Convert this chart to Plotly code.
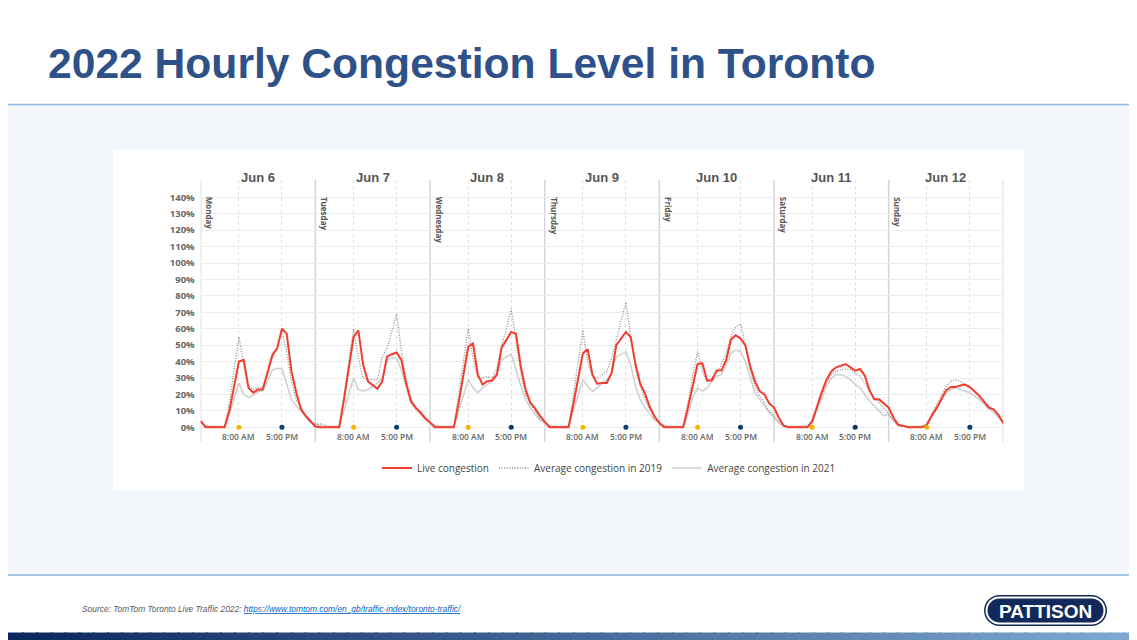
import plotly.graph_objects as go

# the page has an 8px body margin, so the figure is drawn 8px in from the top left
OFF = 8
W, H = 1137 - OFF, 640 - OFF

days = ["Jun 6", "Jun 7", "Jun 8", "Jun 9", "Jun 10", "Jun 11", "Jun 12"]
weekdays = ["Monday", "Tuesday", "Wednesday", "Thursday", "Friday", "Saturday", "Sunday"]
peak_hours = [8, 17]
peak_labels = ["8:00 AM", "5:00 PM"]
y_ticks = list(range(0, 141, 10))

# hourly values, one row per day (hour 0..23), plus the closing value at midnight
live_congestion = [
    [4, 0, 0, 0, 0, 0, 10, 24, 40, 41, 24, 21, 23, 23, 33, 44, 48, 60, 57, 34, 21, 11, 7, 3.5],
    [0.5, 0, 0, 0, 0, 0, 17, 36, 55, 59, 38, 28, 26, 23.5, 28, 43, 44.5, 45.5, 41, 27, 16, 12, 9, 5.5],
    [3, 0, 0, 0, 0, 0, 15, 32, 49, 51, 32, 26, 28, 28.5, 32, 48.5, 53, 58, 57, 37, 23, 15, 11.5, 7],
    [3.5, 0, 0, 0, 0, 0, 14, 30, 45, 47.5, 32, 26.5, 27, 27, 33, 50, 54, 58, 55, 38.5, 26.5, 20.5, 12.5, 6.5],
    [2.5, 0, 0, 0, 0, 0, 12, 26, 38.5, 39, 28.5, 28.5, 34.5, 34.5, 41, 53.5, 56, 54, 50, 37.5, 28, 22, 20, 14.5],
    [12, 6, 1, 0, 0, 0, 0, 0, 3.5, 12.5, 21.5, 29, 34, 36.5, 37.5, 38.5, 36.5, 34.5, 35.5, 31.5, 22.5, 17, 17, 14.5],
    [12, 6, 1.5, 1, 0, 0, 0, 0, 1.5, 7, 11.5, 17.5, 22.5, 24.5, 24.5, 25.5, 26, 24.5, 22, 19, 15.5, 12, 11, 7.5],
]
live_end = 2.5

avg_2019 = [
    [3, 1, 0.5, 0.5, 0.5, 0.5, 15, 35, 55, 38, 25, 23, 24, 25, 32, 42, 48, 59, 46, 28, 17, 12, 7, 3],
    [2, 2, 1.5, 0.5, 0.5, 0.5, 20, 40, 60, 42, 30, 29, 29, 29, 43, 48, 58, 69, 47, 29, 17, 12, 9, 5],
    [3, 1, 0.5, 0.5, 0.5, 0.5, 20, 40, 60, 42, 30, 30, 31, 30, 36, 50, 60, 72, 52, 33, 20, 14, 10, 5],
    [3, 1, 0.5, 0.5, 0.5, 0.5, 20, 40, 59, 40, 31, 30, 32, 34, 42, 54, 65, 76, 56, 36, 25, 17, 11, 6],
    [3, 1, 0.5, 0.5, 0.5, 0.5, 15, 32, 46, 34, 28, 30, 34, 38, 45, 56, 61, 63, 50, 35, 25, 19, 15, 10],
    [7, 3, 1, 0.5, 0.5, 0.5, 0.5, 1, 5, 12, 20, 27, 32, 34, 35, 35.5, 35, 33, 31, 27, 22, 18, 15, 12],
    [8, 4, 1, 0.5, 0.5, 0.5, 0.5, 0.5, 2, 8, 13, 19, 25, 28, 29, 28, 26, 24, 22, 20, 16, 13, 10, 7],
]
avg_2019_end = 3

avg_2021 = [
    [3, 1, 0.5, 0.5, 0.5, 0.5, 8, 18, 27, 20, 18, 19.5, 21.5, 22.5, 28, 35, 36, 35.5, 26, 17, 13, 10, 6, 3],
    [2, 1, 0.5, 0.5, 0.5, 0.5, 10, 20, 30, 23, 22, 23, 25, 27, 30, 41, 42.5, 42, 35, 25, 15, 11, 8, 5],
    [3, 1, 0.5, 0.5, 0.5, 0.5, 10, 20, 29, 24, 21, 24, 26, 28, 33, 41, 43, 44.5, 35, 25, 17, 12, 8, 4],
    [3, 1, 0.5, 0.5, 0.5, 0.5, 10, 20, 29, 25, 22, 24, 27, 29, 33, 43, 44.5, 46, 38, 25, 17, 12, 8, 4],
    [3, 1, 0.5, 0.5, 0.5, 0.5, 8, 18, 24, 22, 24, 28, 31, 32, 38, 45, 47, 46, 40, 30, 21, 17, 13, 9],
    [6, 3, 1, 0.5, 0.5, 0.5, 0.5, 0.5, 3, 10, 18, 25, 30, 32, 32, 31, 29, 26, 24, 20, 16, 13, 10, 7],
    [8, 4, 1, 0.5, 0.5, 0.5, 0.5, 0.5, 1.5, 6, 11, 16, 21, 23, 24, 23, 22, 21, 19, 17, 14, 11, 9, 6],
]
avg_2021_end = 3


def flatten(rows, end):
    return [v for row in rows for v in row] + [end]


def px(x):
    return (x - OFF) / W


def py(y):
    return 1 - (y - OFF) / H


hours = list(range(len(days) * 24 + 1))
n_hours = len(days) * 24

# pixel geometry of the plot panel (page coordinates)
panel_left, panel_right = 200.7, 1003.3
panel_top, panel_bottom = 180, 442
zero_px, top_px = 427.3, 197.3
per_pct = (zero_px - top_px) / 140
y_min = -(panel_bottom - zero_px) / per_pct
y_max = (zero_px - panel_top) / per_pct

fig = go.Figure()

fig.add_trace(go.Scatter(
    x=hours, y=flatten(avg_2021, avg_2021_end), mode="lines",
    name="Average congestion in 2021", legendrank=3,
    line=dict(color="#cfcfcf", width=1.5),
))
fig.add_trace(go.Scatter(
    x=hours, y=flatten(avg_2019, avg_2019_end), mode="lines",
    name="Average congestion in 2019", legendrank=2,
    line=dict(color="#8e8e8e", width=1.3, dash="1px,1.6px"),
))
fig.add_trace(go.Scatter(
    x=hours, y=flatten(live_congestion, live_end), mode="lines",
    name="Live congestion", legendrank=1,
    line=dict(color="#f23d2e", width=2),
))

morning = [d * 24 + peak_hours[0] for d in range(len(days))]
evening = [d * 24 + peak_hours[1] for d in range(len(days))]
fig.add_trace(go.Scatter(
    x=morning, y=[0] * len(morning), mode="markers", showlegend=False,
    marker=dict(color="#f7b500", size=5), cliponaxis=False,
))
fig.add_trace(go.Scatter(
    x=evening, y=[0] * len(evening), mode="markers", showlegend=False,
    marker=dict(color="#0d3b66", size=5), cliponaxis=False,
))

shapes = []
annotations = []

# page background blocks
shapes.append(dict(type="rect", xref="paper", yref="paper", x0=0, x1=1,
                   y0=py(575), y1=py(105), fillcolor="#f3f6fa", line_width=0, layer="below"))
shapes.append(dict(type="rect", xref="paper", yref="paper", x0=px(113), x1=px(1024),
                   y0=py(490), y1=py(150), fillcolor="#ffffff", line_width=0, layer="below"))
for yl in (104.5, 575):
    shapes.append(dict(type="line", xref="paper", yref="paper", x0=0, x1=1,
                       y0=py(yl), y1=py(yl), line=dict(color="#88b6e0", width=1.5), layer="below"))

# day separators
for d in range(len(days) + 1):
    shapes.append(dict(type="line", xref="x", yref="y domain", x0=d * 24, x1=d * 24,
                       y0=0, y1=1, line=dict(color="#d4d4d4", width=1.5), layer="below"))

# bottom gradient strip
c0, c1 = (11, 40, 92), (126, 168, 210)
steps = 80
for i in range(steps):
    t = i / (steps - 1)
    col = "rgb({},{},{})".format(*[round(a + (b - a) * t) for a, b in zip(c0, c1)])
    shapes.append(dict(type="rect", xref="paper", yref="paper",
                       x0=i / steps, x1=(i + 1) / steps + 0.002,
                       y0=0, y1=py(632.5), fillcolor=col, line_width=0, layer="below"))

for d, (day, wd) in enumerate(zip(days, weekdays)):
    annotations.append(dict(x=d * 24 + 12, y=py(177), xref="x", yref="paper", text=day,
                            showarrow=False, yanchor="middle",
                            font=dict(family="Liberation Sans", size=13, color="#555555", weight="bold")))
    annotations.append(dict(x=d * 24, y=141.5, xref="x", yref="y", text=wd, textangle=90,
                            showarrow=False, xanchor="left", yanchor="top", xshift=1.5,
                            font=dict(family="Open Sans", size=8, color="#555555", weight="bold")))
    for h, lab in zip(peak_hours, peak_labels):
        annotations.append(dict(x=d * 24 + h, y=-5.9, xref="x", yref="y", text=lab,
                                showarrow=False, bgcolor="#ffffff", borderpad=0,
                                font=dict(family="Open Sans", size=8.5, color="#666666", weight=600)))

# title and footer
annotations.append(dict(x=px(46), y=py(62.5), xref="paper", yref="paper", xanchor="left", yanchor="middle",
                        text="<b>2022 Hourly Congestion Level in Toronto</b>", showarrow=False,
                        font=dict(family="Liberation Sans", size=42.6, color="#2f5189")))
annotations.append(dict(
    x=px(80), y=py(609), xref="paper", yref="paper", xanchor="left", yanchor="middle", showarrow=False,
    text="<i>Source: TomTom Toronto Live Traffic 2022: "
         "<a href='https://www.tomtom.com/en_gb/traffic-index/toronto-traffic/'>"
         "<span style='color:#0563c1'><u>https://www.tomtom.com/en_gb/traffic-index/toronto-traffic/</u></span></a></i>",
    font=dict(family="Liberation Sans", size=8.4, color="#595959")))


# PATTISON logo pill
def pill(x0, y0, x1, y1):
    r = (y1 - y0) / 2
    k = 0.5523 * r
    pts = [
        ("M", [(x0 + r, y0)]),
        ("L", [(x1 - r, y0)]),
        ("C", [(x1 - r + k, y0), (x1, y0 + r - k), (x1, y0 + r)]),
        ("C", [(x1, y0 + r + k), (x1 - r + k, y1), (x1 - r, y1)]),
        ("L", [(x0 + r, y1)]),
        ("C", [(x0 + r - k, y1), (x0, y0 + r + k), (x0, y0 + r)]),
        ("C", [(x0, y0 + r - k), (x0 + r - k, y0), (x0 + r, y0)]),
    ]
    s = ""
    for cmd, coords in pts:
        s += cmd + " ".join("{:.5f},{:.5f}".format(px(a), py(b)) for a, b in coords)
    return s + "Z"


shapes.append(dict(type="path", xref="paper", yref="paper", path=pill(984, 595, 1107, 626),
                   fillcolor="#13295b", line_width=0, layer="below"))
shapes.append(dict(type="path", xref="paper", yref="paper", path=pill(985.5, 596.5, 1105.5, 624.5),
                   fillcolor="#ffffff", line_width=0, layer="below"))
shapes.append(dict(type="path", xref="paper", yref="paper", path=pill(987.5, 598.5, 1103.5, 622.5),
                   fillcolor="#13295b", line_width=0, layer="below"))
annotations.append(dict(x=px(1045.5), y=py(611), xref="paper", yref="paper", text="<b>PATTISON</b>",
                        showarrow=False, xanchor="center", yanchor="middle",
                        font=dict(family="Liberation Sans", size=19, color="#ffffff")))

fig.update_layout(
    width=W, height=H,
    margin=dict(l=0, r=0, t=0, b=0),
    paper_bgcolor="#ffffff", plot_bgcolor="rgba(0,0,0,0)",
    shapes=shapes, annotations=annotations,
    showlegend=True,
    legend=dict(orientation="h", x=px(609), xanchor="center", y=py(468), yanchor="middle",
                font=dict(family="Open Sans", size=10, color="#444444"),
                bgcolor="rgba(0,0,0,0)", itemwidth=30),
    xaxis=dict(domain=[px(panel_left), px(panel_right)], range=[0, n_hours],
               tickvals=morning + evening, showticklabels=False, ticks="",
               showgrid=True, gridcolor="#dedede", griddash="dot", gridwidth=1,
               zeroline=False, showline=False, fixedrange=True),
    yaxis=dict(domain=[py(panel_bottom), py(panel_top)], range=[y_min, y_max],
               tickvals=y_ticks, ticktext=["{}%".format(v) for v in y_ticks],
               ticks="", ticklabelstandoff=5,
               tickfont=dict(family="Open Sans", size=9.5, color="#666666", weight="bold"),
               showgrid=True, gridcolor="#ececec", gridwidth=1,
               zeroline=False, showline=False, fixedrange=True),
)

fig.write_html("out.html")
